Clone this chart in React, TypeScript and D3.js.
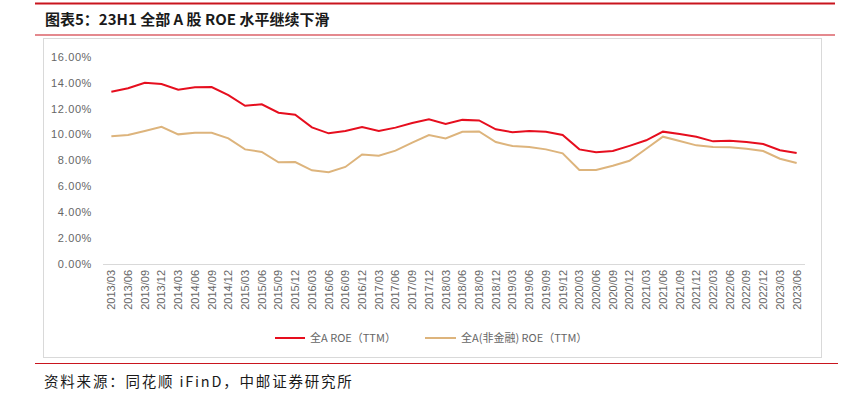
import React from "react";
import * as d3 from "d3";

const categories = [
  "2013/03","2013/06","2013/09","2013/12","2014/03","2014/06","2014/09","2014/12",
  "2015/03","2015/06","2015/09","2015/12","2016/03","2016/06","2016/09","2016/12",
  "2017/03","2017/06","2017/09","2017/12","2018/03","2018/06","2018/09","2018/12",
  "2019/03","2019/06","2019/09","2019/12","2020/03","2020/06","2020/09","2020/12",
  "2021/03","2021/06","2021/09","2021/12","2022/03","2022/06","2022/09","2022/12",
  "2023/03","2023/06",
];

const roeAll = [
  13.32, 13.58, 14.01, 13.91, 13.47, 13.66, 13.68, 13.06,
  12.23, 12.34, 11.69, 11.54, 10.56, 10.10, 10.28, 10.59,
  10.28, 10.54, 10.90, 11.18, 10.82, 11.14, 11.10, 10.41,
  10.18, 10.28, 10.23, 9.97, 8.86, 8.63, 8.73, 9.13,
  9.56, 10.23, 10.05, 9.84, 9.48, 9.53, 9.43, 9.27,
  8.79, 8.58,
];

const roeNonFin = [
  9.87, 9.97, 10.28, 10.61, 10.02, 10.15, 10.15, 9.71,
  8.86, 8.66, 7.86, 7.88, 7.24, 7.09, 7.50, 8.47,
  8.37, 8.76, 9.38, 9.97, 9.71, 10.22, 10.25, 9.43,
  9.12, 9.04, 8.86, 8.55, 7.26, 7.26, 7.60, 7.98,
  8.91, 9.84, 9.51, 9.17, 9.04, 9.02, 8.91, 8.73,
  8.14, 7.81,
];

const yTicks = [0, 2, 4, 6, 8, 10, 12, 14, 16];

const seriesNames = ["全A ROE（TTM）", "全A(非金融) ROE（TTM）"];
const colors = ["#E60E1E", "#DDB47C"];

const title = "图表5：23H1 全部 A 股 ROE 水平继续下滑";
const source = "资料来源：同花顺 iFinD，中邮证券研究所";

export default function App() {
  const W = 851;
  const H = 397;
  const x = d3.scaleBand<string>().domain(categories).range([103, 805]);
  const y = d3.scaleLinear().domain([0, 16]).range([264, 57]);
  const cx = (c: string) => (x(c) as number) + x.bandwidth() / 2;

  const line = d3
    .line<number>()
    .x((_, i) => cx(categories[i]))
    .y((d) => y(d));

  const cjk = "'Noto Sans CJK SC', 'Noto Sans', sans-serif";
  const latin = "'Liberation Sans', Arial, sans-serif";

  return (
    <svg
      width={W}
      height={H}
      style={{ position: "absolute", left: 0, top: 0, background: "#fff" }}
    >
      {/* header rules */}
      <rect x={35} y={2.5} width={800} height={2} fill="#C9151E" />
      <text
        x={45}
        y={25}
        fontFamily={cjk}
        fontSize={15}
        fontWeight={700}
        fill="#1a1a1a"
      >
        {title}
      </text>
      <rect x={35} y={34.5} width={800} height={1} fill="#C9151E" />

      {/* chart box */}
      <rect
        x={43.5}
        y={38.5}
        width={778}
        height={319}
        fill="none"
        stroke="#d9d9d9"
        strokeWidth={1}
      />

      {/* y labels */}
      {yTicks.map((t) => (
        <text
          key={t}
          x={92}
          y={y(t)}
          dy="0.35em"
          textAnchor="end"
          fontFamily={latin}
          fontSize={11}
          letterSpacing={0.6}
          fill="#666666"
        >
          {t.toFixed(2) + "%"}
        </text>
      ))}

      {/* x axis line */}
      <line x1={103} x2={805} y1={264.5} y2={264.5} stroke="#d9d9d9" strokeWidth={1} />

      {/* x labels */}
      {categories.map((c) => (
        <text
          key={c}
          transform={`translate(${cx(c)},270) rotate(-90)`}
          dy="0.35em"
          textAnchor="end"
          fontFamily={latin}
          fontSize={11}
          fill="#666666"
        >
          {c}
        </text>
      ))}

      {/* lines */}
      <path d={line(roeNonFin) || ""} fill="none" stroke={colors[1]} strokeWidth={2} />
      <path d={line(roeAll) || ""} fill="none" stroke={colors[0]} strokeWidth={2} />

      {/* legend */}
      <line x1={275} x2={305} y1={338} y2={338} stroke={colors[0]} strokeWidth={2} />
      <text x={310} y={338} dy="0.35em" fontFamily={cjk} fontSize={11} fill="#666666">
        {seriesNames[0]}
      </text>
      <line x1={425} x2={456} y1={338} y2={338} stroke={colors[1]} strokeWidth={2} />
      <text x={461} y={338} dy="0.35em" fontFamily={cjk} fontSize={11} fill="#666666">
        {seriesNames[1]}
      </text>

      {/* bottom rule */}
      <rect x={35} y={363} width={803} height={1} fill="#C9151E" />
      <text
        x={44}
        y={387}
        fontFamily={cjk}
        fontSize={14.5}
        letterSpacing={1.8}
        fill="#1a1a1a"
      >
        {source}
      </text>
    </svg>
  );
}
